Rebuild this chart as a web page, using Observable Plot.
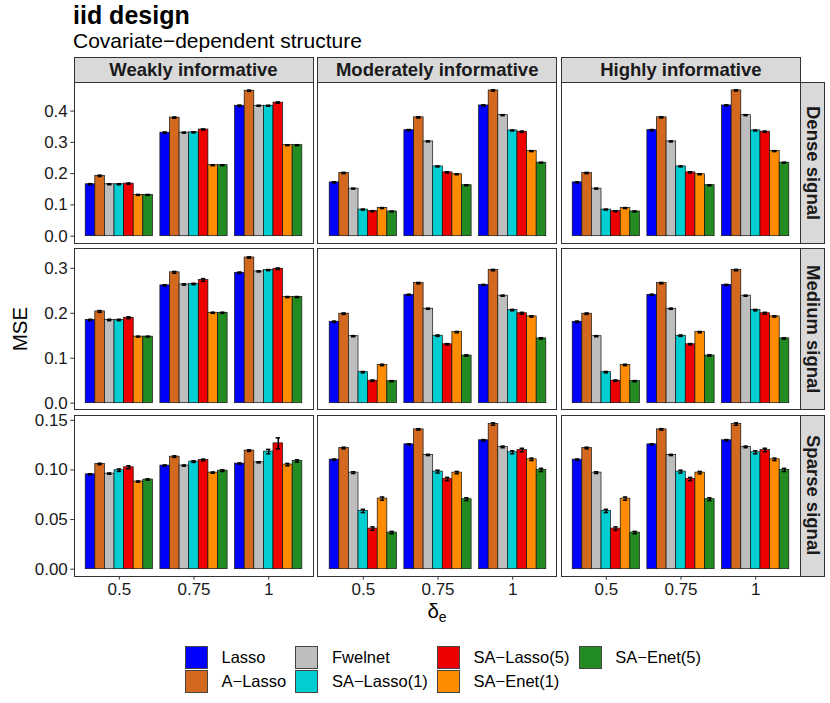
<!DOCTYPE html>
<html>
<head>
<meta charset="utf-8">
<script src="https://cdn.jsdelivr.net/npm/d3@7"></script>
<script src="https://cdn.jsdelivr.net/npm/@observablehq/plot@0.6"></script>
<style>
  body { margin: 0; background: #fff; font-family: "Liberation Sans", Arial, Helvetica, sans-serif; }
  #wrap { position: relative; width: 830px; height: 703px; overflow: hidden; background: #fff; }
  .txt { position: absolute; white-space: nowrap; line-height: 1; color: #000; }
  .pborder { position: absolute; border: 1px solid #333; box-sizing: border-box; pointer-events: none; }
  .strip { position: absolute; background: #d9d9d9; border: 1px solid #333; box-sizing: border-box;
           display: flex; align-items: center; justify-content: center; font-weight: bold;
           font-size: 18.5px; color: #1a1a1a; white-space: nowrap; }
  .stripR { writing-mode: vertical-rl; }
  #legend { position: absolute; left: 185px; top: 645.5px; display: grid; grid-auto-flow: column;
            grid-template-rows: 23px 23px; row-gap: 1.3px; column-gap: 9.3px; }
  .li { display: flex; align-items: center; font-size: 16.5px; color: #000; white-space: nowrap; }
  .key { width: 23px; height: 23px; box-sizing: border-box; border: 1px solid #444; margin-right: 13.5px; }
</style>
</head>
<body>
<div id="wrap"></div>
<script>
// ---- categories ----
const methods = ["Lasso", "A−Lasso", "Fwelnet", "SA−Lasso(1)", "SA−Lasso(5)", "SA−Enet(1)", "SA−Enet(5)"];
const colors  = ["#0000FF", "#D2691E", "#BEBEBE", "#00CED1", "#EE0000", "#FF8C00", "#228B22"];
const deltas  = ["0.5", "0.75", "1"];
const infoLevels = ["Weakly informative", "Moderately informative", "Highly informative"];
const signals = ["Dense signal", "Medium signal", "Sparse signal"];

// ---- MSE values: rows = delta_e (0.5, 0.75, 1), columns = methods ----
const denseWeak = [[0.166,0.193,0.166,0.166,0.168,0.132,0.132],[0.331,0.379,0.331,0.332,0.341,0.227,0.227],[0.417,0.465,0.417,0.417,0.427,0.291,0.291]];
const denseModerate = [[0.172,0.202,0.152,0.085,0.080,0.090,0.079],[0.339,0.380,0.303,0.223,0.204,0.198,0.163],[0.418,0.466,0.387,0.338,0.334,0.272,0.235]];
const denseHigh = [[0.172,0.202,0.152,0.085,0.080,0.090,0.079],[0.339,0.380,0.303,0.223,0.204,0.198,0.163],[0.418,0.466,0.387,0.338,0.334,0.272,0.235]];

const mediumWeak = [[0.185,0.204,0.185,0.185,0.190,0.148,0.148],[0.262,0.291,0.264,0.265,0.274,0.201,0.201],[0.290,0.324,0.293,0.296,0.299,0.236,0.236]];
const mediumModerate = [[0.181,0.199,0.149,0.069,0.050,0.085,0.049],[0.241,0.267,0.210,0.150,0.131,0.158,0.106],[0.263,0.296,0.239,0.207,0.200,0.193,0.144]];
const mediumHigh = [[0.181,0.199,0.149,0.069,0.050,0.085,0.049],[0.241,0.267,0.210,0.150,0.131,0.158,0.106],[0.263,0.296,0.239,0.207,0.200,0.193,0.144]];

const sparseWeak = [[0.0956,0.1060,0.0963,0.0997,0.1027,0.0883,0.0903],[0.1044,0.1134,0.1044,0.1084,0.1100,0.0973,0.0993],[0.1064,0.1195,0.1077,0.1185,0.1268,0.1054,0.1090]];
const sparseModerate = [[0.1104,0.1221,0.0973,0.0587,0.0409,0.0711,0.0369],[0.1258,0.1409,0.1151,0.0983,0.0909,0.0973,0.0705],[0.1299,0.1463,0.1232,0.1178,0.1201,0.1107,0.1000]];
const sparseHigh = [[0.1104,0.1221,0.0973,0.0587,0.0409,0.0711,0.0369],[0.1258,0.1409,0.1151,0.0983,0.0909,0.0973,0.0705],[0.1299,0.1463,0.1232,0.1178,0.1201,0.1107,0.1000]];

// ---- standard errors (error bar half-widths) ----
const seDenseWeak = [[0.002,0.002,0.0015,0.0015,0.002,0.0015,0.0015],[0.002,0.002,0.0015,0.0015,0.002,0.0015,0.0015],[0.002,0.002,0.0015,0.0015,0.002,0.0015,0.0015]];
const seDenseModerate = [[0.002,0.002,0.0015,0.0015,0.0015,0.0015,0.0015],[0.002,0.002,0.0015,0.0015,0.002,0.0015,0.0015],[0.002,0.002,0.0015,0.0015,0.002,0.0015,0.0015]];
const seDenseHigh = [[0.002,0.002,0.0015,0.0015,0.0015,0.0015,0.0015],[0.002,0.002,0.0015,0.0015,0.002,0.0015,0.0015],[0.002,0.002,0.0015,0.0015,0.002,0.0015,0.0015]];

const seMediumWeak = [[0.0015,0.002,0.0015,0.0015,0.002,0.001,0.001],[0.0015,0.002,0.0015,0.0015,0.003,0.0012,0.0012],[0.0015,0.0015,0.0012,0.0012,0.0015,0.0012,0.0012]];
const seMediumModerate = [[0.0015,0.0015,0.0012,0.0015,0.0015,0.0015,0.0012],[0.0012,0.0015,0.0012,0.0015,0.0015,0.0015,0.0015],[0.0012,0.0015,0.0012,0.0015,0.002,0.0015,0.0015]];
const seMediumHigh = [[0.0015,0.0015,0.0012,0.0015,0.0015,0.0015,0.0012],[0.0012,0.0015,0.0012,0.0015,0.0015,0.0015,0.0015],[0.0012,0.0015,0.0012,0.0015,0.002,0.0015,0.0015]];

const seSparseWeak = [[0.0006,0.0007,0.0006,0.0012,0.0015,0.0006,0.0007],[0.0006,0.0008,0.0006,0.0008,0.0009,0.0006,0.0008],[0.0006,0.0008,0.0006,0.0022,0.0055,0.0012,0.0012]];
const seSparseModerate = [[0.0006,0.0008,0.0009,0.0016,0.0017,0.0016,0.0012],[0.0005,0.0007,0.0006,0.0014,0.0016,0.0012,0.0014],[0.0007,0.0012,0.0008,0.0015,0.0017,0.0012,0.0016]];
const seSparseHigh = [[0.0006,0.0008,0.0009,0.0016,0.0017,0.0016,0.0012],[0.0005,0.0007,0.0006,0.0014,0.0016,0.0012,0.0014],[0.0007,0.0012,0.0008,0.0015,0.0017,0.0012,0.0016]];

// ---- y tick labels per row ----
const yTicksDense  = [0, 0.1, 0.2, 0.3, 0.4];
const yTicksMedium = [0, 0.1, 0.2, 0.3];
const yTicksSparse = [0, 0.05, 0.10, 0.15];

// ---- assemble ----
const grid = [
  [[denseWeak, seDenseWeak], [denseModerate, seDenseModerate], [denseHigh, seDenseHigh]],
  [[mediumWeak, seMediumWeak], [mediumModerate, seMediumModerate], [mediumHigh, seMediumHigh]],
  [[sparseWeak, seSparseWeak], [sparseModerate, seSparseModerate], [sparseHigh, seSparseHigh]]
];
const rowTicks = [yTicksDense, yTicksMedium, yTicksSparse];
const rowFormats = [d3.format(".1f"), d3.format(".1f"), d3.format(".2f")];

function panelData(vals, ses) {
  return deltas.flatMap((d, di) => methods.map((m, mi) => ({
    delta: d, method: m, mse: vals[di][mi],
    lo: vals[di][mi] - ses[di][mi], hi: vals[di][mi] + ses[di][mi]
  })));
}

const wrap = document.getElementById("wrap");
const P_LEFT = 74, P_STEP = 243.7, P_W = 239;
const P_TOP = 82.3, R_STEP = 166.4, P_H = 161;
const FONT = "'Liberation Sans', Arial, sans-serif";

function addDiv(cls, css, text) {
  const el = document.createElement("div");
  el.className = cls;
  Object.assign(el.style, css);
  if (text != null) el.textContent = text;
  wrap.appendChild(el);
  return el;
}
function place(svg, left, top) {
  Object.assign(svg.style, {position: "absolute", left: left + "px", top: top + "px", maxWidth: "none"});
  wrap.appendChild(svg);
}

// title and subtitle
addDiv("txt", {left: "73px", top: "3px", fontSize: "25px", fontWeight: "bold"}, "iid design");
addDiv("txt", {left: "73px", top: "30px", fontSize: "21px"}, "Covariate−dependent structure");

grid.forEach((row, r) => {
  const panels = row.map(([v, s]) => panelData(v, s));
  const R = d3.max(panels.flat(), d => d.hi);
  const yDomain = [-0.05 * R, 1.05 * R];
  const top = P_TOP + r * R_STEP;

  // y axis for the row (left of first column)
  const yAxis = Plot.plot({
    width: 75, height: P_H, marginLeft: 74, marginRight: 0, marginTop: 0, marginBottom: 0,
    y: {domain: yDomain, axis: null},
    style: {fontFamily: FONT, background: "transparent", overflow: "visible"},
    marks: [Plot.axisY({ticks: rowTicks[r], tickFormat: rowFormats[r], tickSize: 3.7, tickPadding: 3,
                        fontSize: 17, label: null, stroke: "#333", fill: "#1a1a1a"})]
  });
  place(yAxis, P_LEFT - 74, top);

  panels.forEach((data, c) => {
    const mb = r === 2 ? 34 : 0;
    const marks = [
      Plot.barY(data, {fx: "delta", x: "method", y: "mse", fill: "method", stroke: "#111", strokeWidth: 0.7}),
      Plot.ruleX(data, {fx: "delta", x: "method", y1: "lo", y2: "hi", stroke: "#000", strokeWidth: 1.5}),
      Plot.tickY(data, {fx: "delta", x: "method", y: "lo", stroke: "#000", strokeWidth: 1.5, insetLeft: 2.6, insetRight: 2.6}),
      Plot.tickY(data, {fx: "delta", x: "method", y: "hi", stroke: "#000", strokeWidth: 1.5, insetLeft: 2.6, insetRight: 2.6})
    ];
    if (r === 2) marks.push(Plot.axisFx({anchor: "bottom", tickSize: 3.7, tickPadding: 3, fontSize: 17, label: null,
                                         stroke: "#333", fill: "#1a1a1a"}));
    const svg = Plot.plot({
      width: P_W, height: P_H + mb,
      marginLeft: 0, marginRight: 0, marginTop: 0, marginBottom: mb,
      fx: {domain: deltas, paddingInner: 0.1, paddingOuter: 0.15, round: false, label: null, axis: null},
      x: {domain: methods, padding: 0, round: false, axis: null},
      y: {domain: yDomain, axis: null},
      color: {domain: methods, range: colors},
      style: {fontFamily: FONT, background: "transparent", overflow: "visible"},
      marks
    });
    place(svg, P_LEFT + c * P_STEP, top);
    addDiv("pborder", {left: (P_LEFT + c * P_STEP - 0.5) + "px", top: (top - 0.5) + "px",
                       width: (P_W + 1) + "px", height: (P_H + 1) + "px"});
  });
  // right strip
  addDiv("strip stripR", {left: (P_LEFT + 2 * P_STEP + P_W) + "px", top: (top - 0.5) + "px",
                          width: "25px", height: (P_H + 1) + "px"}, signals[r]);
});

// top strips
infoLevels.forEach((lab, c) => {
  addDiv("strip", {left: (P_LEFT + c * P_STEP - 0.5) + "px", top: "57.3px", width: (P_W + 1) + "px", height: "25.5px"}, lab);
});

// axis titles
addDiv("txt", {left: "20px", top: "329px", fontSize: "20.5px", transform: "translate(-50%,-50%) rotate(-90deg)"}, "MSE");
const xl = addDiv("txt", {left: "437px", top: "612px", fontSize: "20.5px", transform: "translate(-50%,-50%)"});
xl.innerHTML = "δ<sub style='font-size:14px;vertical-align:-4px'>e</sub>";

// legend
const leg = document.createElement("div");
leg.id = "legend";
methods.forEach((m, i) => {
  const item = document.createElement("div");
  item.className = "li";
  const k = document.createElement("div");
  k.className = "key";
  k.style.background = colors[i];
  item.appendChild(k);
  const t = document.createElement("span");
  t.textContent = m;
  item.appendChild(t);
  leg.appendChild(item);
});
wrap.appendChild(leg);
</script>
</body>
</html>
